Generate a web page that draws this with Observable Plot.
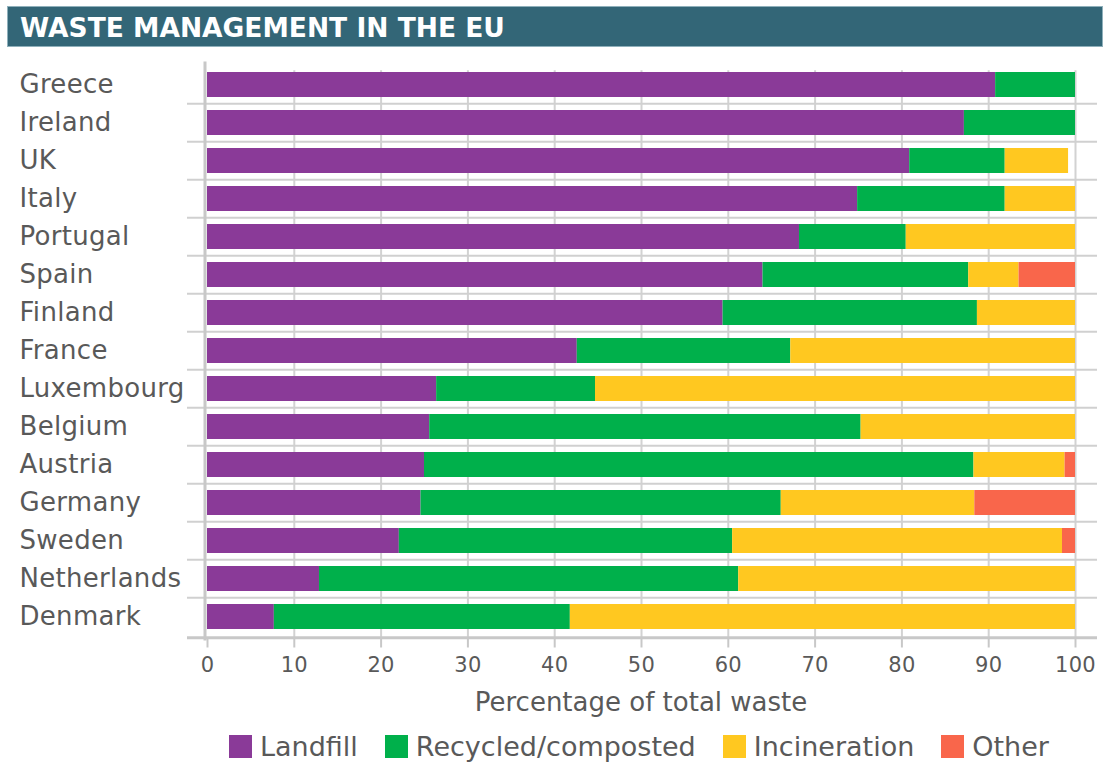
<!DOCTYPE html>
<html><head><meta charset="utf-8">
<script src="https://cdn.jsdelivr.net/npm/d3@7"></script>
<script src="https://cdn.jsdelivr.net/npm/@observablehq/plot@0.6"></script>
<style>
body{margin:0;background:#fff;width:1107px;height:762px;position:relative;overflow:hidden;font-family:"DejaVu Sans",sans-serif;}
#title{position:absolute;left:7px;top:6px;width:1096px;height:41px;background:#336677;color:#fff;font-weight:bold;font-size:26.5px;line-height:41px;box-sizing:border-box;padding-left:12px;border:1px solid #8fb0bb;}
#chart{position:absolute;left:0;top:50px;}
#chart svg text{letter-spacing:0.3px;}
#xlabel{position:absolute;top:687px;left:207px;width:868px;text-align:center;font-size:26px;color:#595959;}
#legend{position:absolute;top:731px;left:229px;display:flex;align-items:center;font-size:27px;color:#595959;}
.item{display:flex;align-items:center;margin-right:27px;}
.sw{width:23px;height:23px;margin-right:8px;}
</style></head>
<body>
<div id="title">WASTE MANAGEMENT IN THE EU</div>
<div id="chart"></div>
<div id="xlabel">Percentage of total waste</div>
<div id="legend"></div>
<script>
const countries = ["Greece","Ireland","UK","Italy","Portugal","Spain","Finland","France","Luxembourg","Belgium","Austria","Germany","Sweden","Netherlands","Denmark"];
const landfill     = [90.8, 87.2, 80.9, 74.9, 68.2, 64.0, 59.4, 42.6, 26.4, 25.6, 25.0, 24.6, 22.1, 12.9, 7.7];
const recycled     = [ 9.2, 12.8, 11.0, 17.0, 12.3, 23.7, 29.3, 24.6, 18.3, 49.7, 63.3, 41.5, 38.4, 48.3, 34.1];
const incineration = [ 0,    0,    7.3,  8.1, 19.5,  5.8, 11.3, 32.8, 55.3, 24.7, 10.5, 22.3, 38.0, 38.8, 58.2];
const other        = [ 0,    0,    0,    0,    0,    6.5,  0,    0,    0,    0,    1.2, 11.6,  1.5,  0,    0];
const seriesNames  = ["Landfill","Recycled/composted","Incineration","Other"];
const seriesColors = ["#8a3a98","#00b04b","#ffc820","#f9664b"];
const xTicks = [0,10,20,30,40,50,60,70,80,90,100];

const seriesValues = [landfill, recycled, incineration, other];
const data = seriesNames.flatMap((s, si) => countries.map((c, ci) => ({country: c, series: s, value: seriesValues[si][ci]})));

const W = 1107, H = 630, mt = 13.5, mb = 42.5, ml = 207, mr = 32;
const pad = 0.35;
const step = (H - mt - mb) / countries.length;

const chart = Plot.plot({
  width: W, height: H, marginTop: mt, marginBottom: mb, marginLeft: ml, marginRight: mr,
  style: {fontFamily: "DejaVu Sans", color: "#595959", background: "transparent", overflow: "visible"},
  x: {domain: [0, 100]},
  y: {domain: countries, paddingInner: pad, paddingOuter: pad / 2, align: 0.5},
  color: {domain: seriesNames, range: seriesColors},
  marks: [
    Plot.ruleX(xTicks.slice(1), {stroke: "#d2d2d2", strokeWidth: 2, insetTop: step * pad / 2}),
    Plot.ruleY(countries.slice(1), {y: d => d, dy: -step / 2, stroke: "#d0d0d0", strokeWidth: 2, insetLeft: -20, insetRight: -22}),
    Plot.barX(data, Plot.stackX({y: "country", x: "value", fill: "series", z: "series"})),
    Plot.ruleX([0], {stroke: "#c8c8c8", strokeWidth: 3, dx: -2.5, insetTop: -2, insetBottom: -3}),
    Plot.ruleY([countries[countries.length - 1]], {y: d => d, dy: step / 2 + 1.5, stroke: "#c8c8c8", strokeWidth: 3, insetLeft: -20, insetRight: -22}),
    Plot.axisX({ticks: xTicks, tickSize: 10, stroke: "#c8c8c8", strokeWidth: 2, tickPadding: 9, fontSize: 21, label: null}),
    Plot.axisY({tickSize: 0, textAnchor: "start", dx: 25 - (ml - 3), fontSize: 26, label: null})
  ]
});
document.getElementById("chart").appendChild(chart);

const legend = document.getElementById("legend");
seriesNames.forEach((s, i) => {
  const it = document.createElement("div");
  it.className = "item";
  const sw = document.createElement("div");
  sw.className = "sw";
  sw.style.background = seriesColors[i];
  const tx = document.createElement("span");
  tx.textContent = s;
  it.appendChild(sw); it.appendChild(tx);
  legend.appendChild(it);
});
</script>
</body></html>
